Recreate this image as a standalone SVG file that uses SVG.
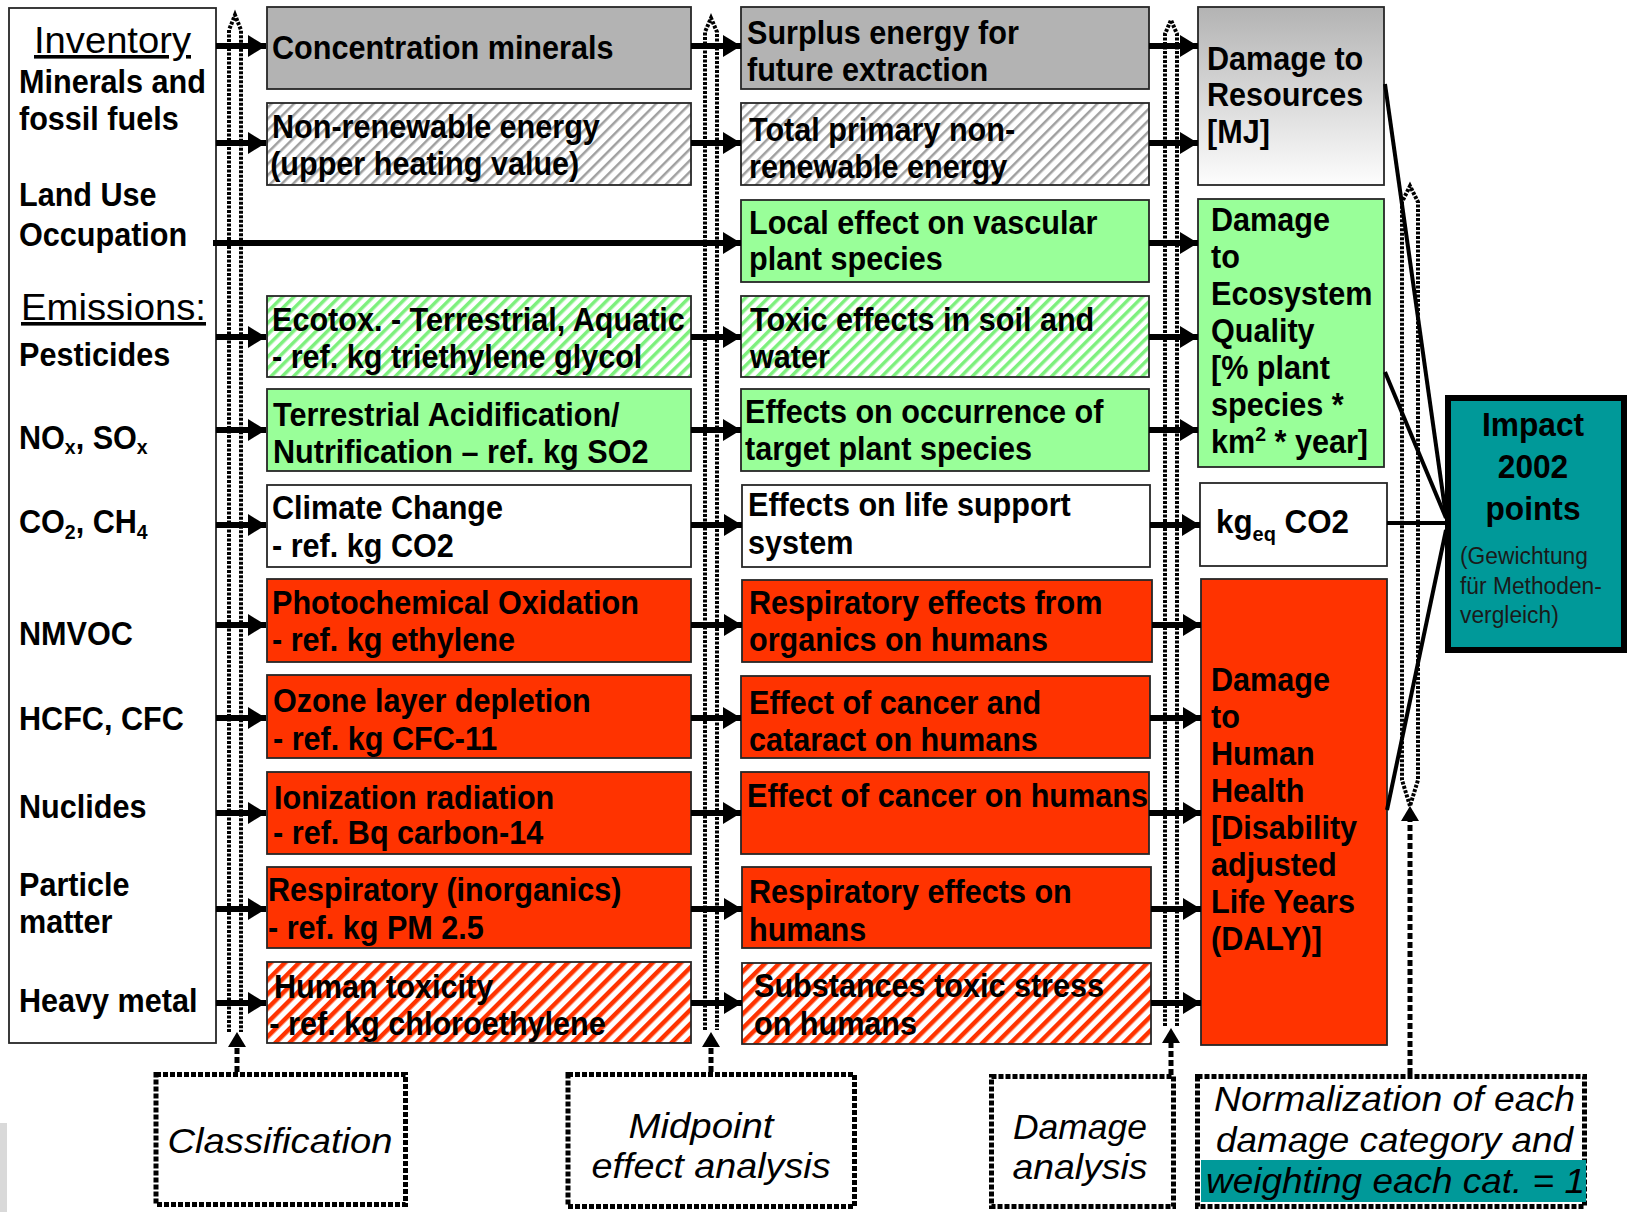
<svg xmlns="http://www.w3.org/2000/svg" width="1627" height="1212" viewBox="0 0 1627 1212">
<defs>
<style>
.t{font-family:"Liberation Sans",Arial,sans-serif;font-weight:bold;font-size:33px;fill:#000}
.n{font-family:"Liberation Sans",Arial,sans-serif;font-size:36px;fill:#000}
.i{font-family:"Liberation Sans",Arial,sans-serif;font-style:italic;font-size:35px;fill:#000}
.s{font-family:"Liberation Sans",Arial,sans-serif;font-size:24px;fill:#1a1a1a}
.box{stroke:#262626;stroke-width:1.8}
.gray{fill:#b3b3b3}
.green{fill:#99ff99}
.red{fill:#ff3300}
.white{fill:#fff}
.hg{fill:url(#hGray)}
.hn{fill:url(#hGreen)}
.hr{fill:url(#hRed)}
.arr{stroke:#000;stroke-width:6;fill:none;marker-end:url(#ah)}
.dot{stroke:#000;stroke-width:4;stroke-dasharray:3 1.5;fill:none}
.dash{stroke:#000;stroke-width:5;stroke-dasharray:6 3;fill:none}
.dbox{stroke:#000;stroke-width:5;stroke-dasharray:5 2;fill:#fff}
.ln{stroke:#000;stroke-width:4;fill:none}
</style>
<marker id="ah" markerUnits="userSpaceOnUse" markerWidth="20" markerHeight="22" refX="18" refY="11" orient="auto"><path d="M0,0 L18,11 L0,22 z" fill="#000"/></marker>
<pattern id="hGray" width="8" height="8" patternUnits="userSpaceOnUse" patternTransform="rotate(45)"><rect width="8" height="8" fill="#fff"/><rect width="2.5" height="8" fill="#a0a0a0"/></pattern>
<pattern id="hGreen" width="8" height="8" patternUnits="userSpaceOnUse" patternTransform="rotate(45)"><rect width="8" height="8" fill="#fff"/><rect width="3.5" height="8" fill="#7df07d"/></pattern>
<pattern id="hRed" width="10" height="10" patternUnits="userSpaceOnUse" patternTransform="rotate(45)"><rect width="10" height="10" fill="#fff"/><rect width="4.5" height="10" fill="#ff3300"/></pattern>
<linearGradient id="gRes" x1="0" y1="0" x2="0" y2="1"><stop offset="0" stop-color="#b3b3b3"/><stop offset="1" stop-color="#fdfdfd"/></linearGradient>
</defs>
<rect width="1627" height="1212" fill="#fff"/>
<rect x="0" y="1123" width="7" height="89" fill="#d9d9d9"/>

<!-- inventory column -->
<g id="inventory">
<rect class="box white" x="9" y="8" width="207" height="1035"/>
<text class="n" x="34" y="53" textLength="157" lengthAdjust="spacingAndGlyphs" text-decoration="underline">Inventory</text>
<text class="t" transform="translate(19,93) scale(.927 1)"><tspan x="0">Minerals and</tspan><tspan x="0" dy="37">fossil fuels</tspan></text>
<text class="t" transform="translate(19,206) scale(.927 1)"><tspan x="0">Land Use</tspan><tspan x="0" dy="40">Occupation</tspan></text>
<text class="n" x="21" y="320" textLength="185" lengthAdjust="spacingAndGlyphs" text-decoration="underline">Emissions:</text>
<text class="t" transform="translate(19,366) scale(.927 1)">Pesticides</text>
<text class="t" transform="translate(19,449) scale(.927 1)">NO<tspan font-size="21" dy="5">x</tspan><tspan dy="-5">, SO</tspan><tspan font-size="21" dy="5">x</tspan></text>
<text class="t" transform="translate(19,533) scale(.927 1)">CO<tspan font-size="21" dy="6">2</tspan><tspan dy="-6">, CH</tspan><tspan font-size="21" dy="6">4</tspan></text>
<text class="t" transform="translate(19,645) scale(.927 1)">NMVOC</text>
<text class="t" transform="translate(19,730) scale(.927 1)">HCFC, CFC</text>
<text class="t" transform="translate(19,818) scale(.927 1)">Nuclides</text>
<text class="t" transform="translate(19,896) scale(.927 1)"><tspan x="0">Particle</tspan><tspan x="0" dy="37">matter</tspan></text>
<text class="t" transform="translate(19,1012) scale(.927 1)">Heavy metal</text>
</g>

<!-- midpoint categories (column 2) -->
<g id="c2-concentration"><rect class="box gray" x="267" y="7" width="424" height="82"/>
<text class="t" transform="translate(272,59) scale(.927 1)">Concentration minerals</text></g>
<g id="c2-nonrenewable"><rect class="box hg" x="267" y="103" width="424" height="82"/>
<text class="t" transform="translate(272,138) scale(.927 1)"><tspan x="0">Non-renewable energy</tspan><tspan x="-2" dy="37">(upper heating value)</tspan></text></g>
<g id="c2-ecotox"><rect class="box hn" x="267" y="296" width="424" height="81"/>
<text class="t" transform="translate(272,331) scale(.927 1)"><tspan x="0">Ecotox. - Terrestrial, Aquatic</tspan><tspan x="0" dy="37">- ref. kg triethylene glycol</tspan></text></g>
<g id="c2-acidification"><rect class="box green" x="267" y="389" width="424" height="82"/>
<text class="t" transform="translate(273,426) scale(.927 1)"><tspan x="0">Terrestrial Acidification/</tspan><tspan x="0" dy="37">Nutrification – ref. kg SO2</tspan></text></g>
<g id="c2-climate"><rect class="box white" x="267" y="485" width="424" height="82"/>
<text class="t" transform="translate(272,519) scale(.927 1)"><tspan x="0">Climate Change</tspan><tspan x="0" dy="38">- ref. kg CO2</tspan></text></g>
<g id="c2-photochem"><rect class="box red" x="267" y="579" width="424" height="83"/>
<text class="t" transform="translate(272,614) scale(.927 1)"><tspan x="0">Photochemical Oxidation</tspan><tspan x="0" dy="37">- ref. kg ethylene</tspan></text></g>
<g id="c2-ozone"><rect class="box red" x="267" y="675" width="424" height="83"/>
<text class="t" transform="translate(273,712) scale(.927 1)"><tspan x="0">Ozone layer depletion</tspan><tspan x="0" dy="38">- ref. kg CFC-11</tspan></text></g>
<g id="c2-ionization"><rect class="box red" x="267" y="772" width="424" height="82"/>
<text class="t" transform="translate(274,809) scale(.927 1)"><tspan x="0">Ionization radiation</tspan><tspan x="-1" dy="35">- ref. Bq carbon-14</tspan></text></g>
<g id="c2-respiratory"><rect class="box red" x="267" y="867" width="424" height="81"/>
<text class="t" transform="translate(268,901) scale(.927 1)"><tspan x="0">Respiratory (inorganics)</tspan><tspan x="0" dy="38">- ref. kg PM 2.5</tspan></text></g>
<g id="c2-humantox"><rect class="box hr" x="267" y="962" width="424" height="81"/>
<text class="t" transform="translate(274,998) scale(.927 1)"><tspan x="0">Human toxicity</tspan><tspan x="-5" dy="37">- ref. kg chloroethylene</tspan></text></g>

<!-- midpoint effects (column 3) -->
<g id="c3-surplus"><rect class="box gray" x="741" y="7" width="408" height="82"/>
<text class="t" transform="translate(747,44) scale(.927 1)"><tspan x="0">Surplus energy for</tspan><tspan x="0" dy="37">future extraction</tspan></text></g>
<g id="c3-primary"><rect class="box hg" x="741" y="103" width="408" height="82"/>
<text class="t" transform="translate(749,141) scale(.927 1)"><tspan x="0">Total primary non-</tspan><tspan x="0" dy="37">renewable energy</tspan></text></g>
<g id="c3-vascular"><rect class="box green" x="741" y="200" width="408" height="82"/>
<text class="t" transform="translate(749,234) scale(.927 1)"><tspan x="0">Local effect on vascular</tspan><tspan x="0" dy="36">plant species</tspan></text></g>
<g id="c3-toxic"><rect class="box hn" x="741" y="296" width="408" height="81"/>
<text class="t" transform="translate(750,331) scale(.927 1)"><tspan x="0">Toxic effects in soil and</tspan><tspan x="0" dy="37">water</tspan></text></g>
<g id="c3-occurrence"><rect class="box green" x="741" y="389" width="408" height="82"/>
<text class="t" transform="translate(745,423) scale(.927 1)"><tspan x="0">Effects on occurrence of</tspan><tspan x="0" dy="37">target plant species</tspan></text></g>
<g id="c3-lifesupport"><rect class="box white" x="742" y="485" width="408" height="82"/>
<text class="t" transform="translate(748,516) scale(.927 1)"><tspan x="0">Effects on life support</tspan><tspan x="0" dy="38">system</tspan></text></g>
<g id="c3-organics"><rect class="box red" x="742" y="580" width="410" height="82"/>
<text class="t" transform="translate(749,614) scale(.927 1)"><tspan x="0">Respiratory effects from</tspan><tspan x="0" dy="37">organics on humans</tspan></text></g>
<g id="c3-cataract"><rect class="box red" x="741" y="676" width="409" height="82"/>
<text class="t" transform="translate(749,714) scale(.927 1)"><tspan x="0">Effect of cancer and</tspan><tspan x="0" dy="37">cataract on humans</tspan></text></g>
<g id="c3-cancer"><rect class="box red" x="741" y="772" width="408" height="82"/>
<text class="t" transform="translate(747,807) scale(.927 1)">Effect of cancer on humans</text></g>
<g id="c3-respiratory"><rect class="box red" x="742" y="867" width="409" height="81"/>
<text class="t" transform="translate(749,903) scale(.927 1)"><tspan x="0">Respiratory effects on</tspan><tspan x="0" dy="38">humans</tspan></text></g>
<g id="c3-toxicstress"><rect class="box hr" x="742" y="963" width="409" height="81"/>
<text class="t" transform="translate(754,997) scale(.927 1)"><tspan x="0">Substances toxic stress</tspan><tspan x="0" dy="38">on humans</tspan></text></g>

<!-- damage categories (column 4) -->
<g id="d-resources"><rect class="box" fill="url(#gRes)" x="1198" y="7" width="186" height="178"/>
<text class="t" transform="translate(1207,70) scale(.927 1)"><tspan x="0">Damage to</tspan><tspan x="0" dy="36">Resources</tspan><tspan x="0" dy="37">[MJ]</tspan></text></g>
<g id="d-ecosystem"><rect class="box green" x="1198" y="199" width="186" height="268"/>
<text class="t" transform="translate(1211,231) scale(.927 1)"><tspan x="0">Damage</tspan><tspan x="0" dy="37">to</tspan><tspan x="0" dy="37">Ecosystem</tspan><tspan x="0" dy="37">Quality</tspan><tspan x="0" dy="37">[% plant</tspan><tspan x="0" dy="37">species *</tspan><tspan x="0" dy="37">km</tspan><tspan font-size="21" dy="-12">2</tspan><tspan dy="12"> * year]</tspan></text></g>
<g id="d-climate"><rect class="box white" x="1200" y="483" width="187" height="83"/>
<text class="t" transform="translate(1216,533) scale(.95 1)">kg<tspan font-size="21" dy="8">eq</tspan><tspan dy="-8"> CO2</tspan></text></g>
<g id="d-human"><rect class="box red" x="1201" y="579" width="186" height="466"/>
<text class="t" transform="translate(1211,691) scale(.927 1)"><tspan x="0">Damage</tspan><tspan x="0" dy="37">to</tspan><tspan x="0" dy="37">Human</tspan><tspan x="0" dy="37">Health</tspan><tspan x="0" dy="37">[Disability</tspan><tspan x="0" dy="37">adjusted</tspan><tspan x="0" dy="37">Life Years</tspan><tspan x="0" dy="37">(DALY)]</tspan></text></g>

<!-- impact -->
<g id="impact"><rect x="1448" y="398" width="176" height="252" fill="#009999" stroke="#000" stroke-width="6"/>
<text class="t" font-size="36" text-anchor="middle" transform="translate(1533,436) scale(.96 1)"><tspan x="0">Impact</tspan><tspan x="0" dy="42">2002</tspan><tspan x="0" dy="42">points</tspan></text>
<text class="s" transform="translate(1460,564) scale(.95 1)"><tspan x="0">(Gewichtung</tspan><tspan x="0" dy="30">für Methoden-</tspan><tspan x="0" dy="29">vergleich)</tspan></text></g>

<!-- step boxes -->
<g id="step-classification"><rect class="dbox" x="156" y="1074.5" width="249.5" height="130"/>
<text class="i" x="280" y="1153" text-anchor="middle" textLength="225" lengthAdjust="spacingAndGlyphs">Classification</text></g>
<g id="step-midpoint"><rect class="dbox" x="568" y="1074.5" width="286.5" height="132"/>
<text class="i" x="701" y="1138" text-anchor="middle" textLength="145" lengthAdjust="spacingAndGlyphs">Midpoint</text>
<text class="i" x="711" y="1178" text-anchor="middle" textLength="239" lengthAdjust="spacingAndGlyphs">effect analysis</text></g>
<g id="step-damage"><rect class="dbox" x="991.5" y="1076.5" width="182" height="130"/>
<text class="i" x="1080" y="1139" text-anchor="middle" textLength="134" lengthAdjust="spacingAndGlyphs">Damage</text>
<text class="i" x="1080" y="1179" text-anchor="middle" textLength="135" lengthAdjust="spacingAndGlyphs">analysis</text></g>
<g id="step-normalization"><rect class="dbox" x="1197.5" y="1076.5" width="387" height="130"/>
<rect x="1201" y="1160" width="385" height="42" fill="#009999"/>
<text class="i" x="1214" y="1111" textLength="361" lengthAdjust="spacingAndGlyphs">Normalization of each</text>
<text class="i" x="1216" y="1152" textLength="357" lengthAdjust="spacingAndGlyphs">damage category and</text>
<text class="i" x="1206" y="1193" textLength="379" lengthAdjust="spacingAndGlyphs">weighting each cat. = 1</text></g>

<!-- connectors -->
<g id="connectors">
<path class="dot" d="M229,1032 L229,30 L235,15 L241,30 L241,1032"/>
<path class="dot" d="M705,1030 L705,32 L711,18 L717,32 L717,1030"/>
<path class="dot" d="M1165,1026 L1165,34 L1171,20 L1177,34 L1177,1026"/>
<path class="dot" d="M1410,806 L1402,780 L1402,202 L1410,186 L1418,202 L1418,780 L1410,806"/>
<path class="dash" d="M237,1072 L237,1046"/><path d="M228,1047 L246,1047 L237,1032 z"/>
<path class="dash" d="M711,1072 L711,1046"/><path d="M702,1047 L720,1047 L711,1032 z"/>
<path class="dash" d="M1171,1075 L1171,1042"/><path d="M1162,1043 L1180,1043 L1171,1028 z"/>
<path class="dash" d="M1410,1074 L1410,820"/><path d="M1401,821 L1419,821 L1410,806 z"/>

<path class="arr" d="M216,46 H266"/>
<path class="arr" d="M216,143 H266"/>
<path class="arr" d="M213,243 H741"/>
<path class="arr" d="M216,337 H266"/>
<path class="arr" d="M216,430 H266"/>
<path class="arr" d="M216,525 H266"/>
<path class="arr" d="M216,625 H266"/>
<path class="arr" d="M216,718 H266"/>
<path class="arr" d="M216,813 H266"/>
<path class="arr" d="M216,909 H266"/>
<path class="arr" d="M216,1003 H266"/>

<path class="arr" d="M691,46 H741"/>
<path class="arr" d="M691,143 H741"/>
<path class="arr" d="M691,337 H741"/>
<path class="arr" d="M691,430 H741"/>
<path class="arr" d="M691,525 H742"/>
<path class="arr" d="M691,625 H742"/>
<path class="arr" d="M691,718 H741"/>
<path class="arr" d="M691,813 H741"/>
<path class="arr" d="M691,909 H742"/>
<path class="arr" d="M691,1003 H742"/>

<path class="arr" d="M1149,46 H1198"/>
<path class="arr" d="M1149,143 H1198"/>
<path class="arr" d="M1149,243 H1198"/>
<path class="arr" d="M1149,337 H1198"/>
<path class="arr" d="M1149,430 H1198"/>
<path class="arr" d="M1150,525 H1200"/>
<path class="arr" d="M1152,625 H1201"/>
<path class="arr" d="M1150,718 H1201"/>
<path class="arr" d="M1149,813 H1201"/>
<path class="arr" d="M1151,909 H1201"/>
<path class="arr" d="M1151,1003 H1201"/>

<path class="ln" d="M1385,84 L1446,516"/>
<path class="ln" d="M1385,372 L1446,518"/>
<path class="ln" stroke-width="5" d="M1387,523 H1446"/>
<path class="ln" d="M1387,810 L1446,530"/>
</g>
</svg>
